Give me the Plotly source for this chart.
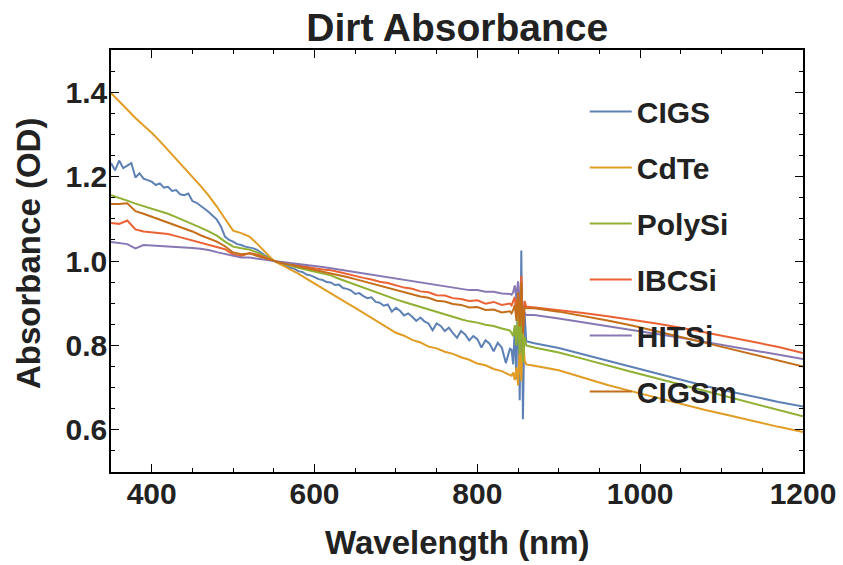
import plotly.graph_objects as go

# ---------------- data ----------------
WL_MAIN = list(range(350, 841, 10))
WL_SPIKE = [842, 844, 846, 848, 850, 852, 854, 856, 858, 860]
WL_AFTER = list(range(870, 1201, 30))
WL = WL_MAIN + WL_SPIKE + WL_AFTER

WL_CIGS = list(range(350, 841, 5)) + WL_SPIKE + WL_AFTER

CIGS = [1.232, 1.215, 1.238, 1.220, 1.226, 1.232, 1.198, 1.208, 1.195, 1.192,
        1.188, 1.180, 1.184, 1.174, 1.176, 1.166, 1.168, 1.158, 1.156, 1.160,
        1.142, 1.138, 1.132, 1.124, 1.116, 1.108, 1.098, 1.082, 1.058, 1.050,
        1.046, 1.040, 1.038, 1.034, 1.032, 1.030, 1.026, 1.018, 1.012, 1.006,
        1.000, 0.996, 0.992, 0.990, 0.984, 0.982, 0.976, 0.974, 0.968, 0.966,
        0.962, 0.957, 0.955, 0.950, 0.949, 0.943, 0.944, 0.936, 0.934, 0.930,
        0.922, 0.924, 0.917, 0.912, 0.914, 0.903, 0.901, 0.894, 0.897, 0.880,
        0.889, 0.882, 0.871, 0.876, 0.868, 0.858, 0.866, 0.857, 0.852, 0.836,
        0.852, 0.846, 0.834, 0.842, 0.829, 0.818, 0.834, 0.826, 0.812, 0.822,
        0.815, 0.795, 0.812, 0.804, 0.786, 0.806, 0.795, 0.758, 0.792,
        0.790, 0.755, 0.840, 0.720, 0.950, 0.670, 1.025, 0.625, 0.880, 0.810,
        0.805, 0.794, 0.779, 0.763, 0.749, 0.733, 0.719, 0.704, 0.691, 0.678, 0.666, 0.655]

CDTE = [1.398, 1.378, 1.358, 1.339, 1.321, 1.304, 1.284, 1.263, 1.242, 1.221,
        1.199, 1.178, 1.155, 1.129, 1.100, 1.072, 1.066, 1.058, 1.040, 1.020,
        1.000, 0.990, 0.980, 0.970, 0.958, 0.946, 0.935, 0.924, 0.912, 0.900,
        0.889, 0.877, 0.865, 0.853, 0.842, 0.830, 0.823, 0.813, 0.807, 0.797,
        0.793, 0.785, 0.780, 0.772, 0.766, 0.757, 0.753, 0.744, 0.739, 0.730,
        0.728, 0.736, 0.718, 0.748, 0.705, 0.790, 0.715, 0.830, 0.765, 0.755,
        0.752, 0.741, 0.723, 0.706, 0.691, 0.676, 0.661, 0.647, 0.634, 0.620, 0.607, 0.595]

POLYSI = [1.156, 1.150, 1.143, 1.136, 1.130, 1.124, 1.118, 1.112, 1.104, 1.096,
          1.088, 1.079, 1.070, 1.060, 1.046, 1.034, 1.030, 1.027, 1.020, 1.010,
          1.000, 0.995, 0.989, 0.984, 0.979, 0.975, 0.971, 0.966, 0.958, 0.951,
          0.943, 0.936, 0.929, 0.923, 0.916, 0.909, 0.903, 0.897, 0.891, 0.886,
          0.880, 0.874, 0.867, 0.862, 0.857, 0.854, 0.849, 0.846, 0.840, 0.835,
          0.830, 0.822, 0.848, 0.800, 0.875, 0.780, 0.905, 0.760, 0.820, 0.800,
          0.795, 0.783, 0.768, 0.752, 0.737, 0.722, 0.707, 0.692, 0.677, 0.662, 0.647, 0.632]

IBCSI = [1.090, 1.088, 1.096, 1.075, 1.070, 1.068, 1.066, 1.064, 1.059, 1.054,
         1.048, 1.044, 1.038, 1.033, 1.028, 1.015, 1.012, 1.019, 1.015, 1.008,
         1.000, 0.996, 0.992, 0.990, 0.986, 0.983, 0.980, 0.978, 0.974, 0.969,
         0.964, 0.960, 0.956, 0.951, 0.948, 0.942, 0.937, 0.934, 0.928, 0.926,
         0.919, 0.918, 0.912, 0.910, 0.905, 0.907, 0.899, 0.903, 0.896, 0.899,
         0.895, 0.905, 0.915, 0.870, 0.945, 0.855, 0.965, 0.840, 0.905, 0.892,
         0.890, 0.884, 0.877, 0.869, 0.861, 0.852, 0.842, 0.831, 0.820, 0.808, 0.796, 0.782]

HITSI = [1.045, 1.042, 1.040, 1.030, 1.038, 1.037, 1.036, 1.035, 1.034, 1.032,
         1.031, 1.029, 1.026, 1.021, 1.017, 1.012, 1.008, 1.008, 1.006, 1.003,
         1.000, 0.997, 0.995, 0.993, 0.991, 0.989, 0.986, 0.983, 0.980, 0.976,
         0.973, 0.970, 0.967, 0.964, 0.961, 0.958, 0.955, 0.952, 0.949, 0.946,
         0.943, 0.941, 0.937, 0.935, 0.931, 0.931, 0.927, 0.927, 0.923, 0.922,
         0.920, 0.926, 0.942, 0.910, 0.952, 0.900, 0.935, 0.872, 0.876, 0.872,
         0.872, 0.864, 0.855, 0.846, 0.837, 0.828, 0.818, 0.808, 0.798, 0.788, 0.778, 0.768]

CIGSM = [1.135, 1.135, 1.137, 1.118, 1.112, 1.105, 1.098, 1.092, 1.085, 1.078,
         1.070, 1.061, 1.054, 1.046, 1.035, 1.020, 1.016, 1.018, 1.012, 1.006,
         1.000, 0.995, 0.991, 0.987, 0.983, 0.979, 0.975, 0.971, 0.967, 0.962,
         0.957, 0.952, 0.947, 0.942, 0.936, 0.932, 0.926, 0.922, 0.916, 0.913,
         0.906, 0.904, 0.898, 0.896, 0.890, 0.891, 0.884, 0.885, 0.878, 0.881,
         0.876, 0.884, 0.896, 0.858, 0.925, 0.845, 0.950, 0.828, 0.892, 0.888,
         0.888, 0.880, 0.870, 0.859, 0.847, 0.834, 0.820, 0.806, 0.792, 0.778, 0.764, 0.750]

SERIES_NAMES = ["CIGS", "CdTe", "PolySi", "IBCSi", "HITSi", "CIGSm"]
SERIES_X = [WL_CIGS, WL, WL, WL, WL, WL]
SERIES_Y = [CIGS, CDTE, POLYSI, IBCSI, HITSI, CIGSM]
COLORS = ["#5E81B5", "#E19C24", "#8FB032", "#EB6235", "#8778B3", "#C56E1A"]

X_TICKS = [400, 600, 800, 1000, 1200]
Y_TICKS = [0.6, 0.8, 1.0, 1.2, 1.4]
Y_TICK_LABELS = ["0.6", "0.8", "1.0", "1.2", "1.4"]

TITLE = "Dirt Absorbance"
X_TITLE = "Wavelength (nm)"
Y_TITLE = "Absorbance (OD)"

FONT = "Liberation Sans, Arial, sans-serif"
TXT = "#222"

fig = go.Figure()
for name, xs, ys, col in zip(SERIES_NAMES, SERIES_X, SERIES_Y, COLORS):
    fig.add_trace(go.Scatter(x=xs, y=ys, mode="lines", name=name, legendgroup=name,
                             line=dict(color=col, width=2)))

axis_common = dict(
    showline=True, linecolor="black", linewidth=1.5, mirror="ticks",
    ticks="inside", ticklen=8, tickwidth=1.3, tickcolor="black",
    showgrid=False, zeroline=False, automargin=False,
    tickfont=dict(family=FONT, size=30, color=TXT, weight="bold"),
)

fig.update_layout(
    width=843, height=565,
    paper_bgcolor="white", plot_bgcolor="white",
    margin=dict(l=111, r=40, t=50, b=93, autoexpand=False),
    title=dict(text=TITLE, x=0.5424, xanchor="center", y=0.976, yanchor="top",
               font=dict(family=FONT, size=39, color=TXT, weight="bold")),
    xaxis=dict(range=[350, 1200], tickvals=X_TICKS, ticklabelstandoff=-6,
               minor=dict(dtick=50, ticks="inside", ticklen=4, tickcolor="black", tickwidth=1.2),
               **axis_common),
    yaxis=dict(range=[0.5, 1.5], tickvals=Y_TICKS, ticktext=Y_TICK_LABELS, ticklabelstandoff=-4,
               minor=dict(dtick=0.05, ticks="inside", ticklen=4, tickcolor="black", tickwidth=1.2),
               **axis_common),
    legend=dict(x=0.6846, xanchor="left", y=0.916, yanchor="top", itemwidth=42,
                bgcolor="rgba(0,0,0,0)", borderwidth=0, tracegroupgap=14,
                font=dict(family=FONT, size=30, color=TXT, weight="bold")),
    showlegend=True,
    annotations=[
        dict(text=X_TITLE, xref="paper", yref="paper", x=0.5, y=-0.168,
             xanchor="center", yanchor="middle", showarrow=False,
             font=dict(family=FONT, size=33, color=TXT, weight="bold")),
        dict(text=Y_TITLE, xref="paper", yref="paper", x=-0.1185, y=0.519,
             xanchor="center", yanchor="middle", showarrow=False, textangle=-90,
             font=dict(family=FONT, size=33, color=TXT, weight="bold")),
    ],
)

fig.write_html("out.html", config={"displayModeBar": False},
               post_script="document.body.style.margin='0';")
